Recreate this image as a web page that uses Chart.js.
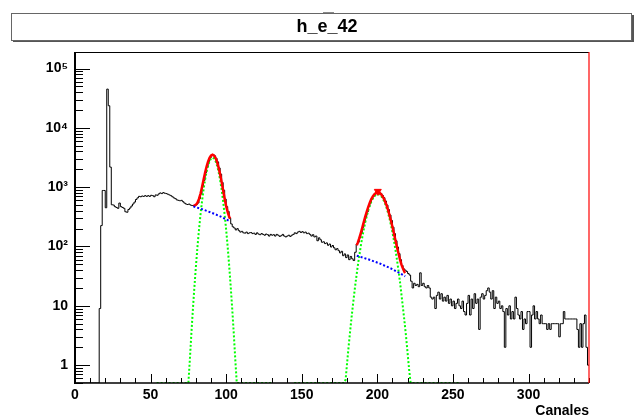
<!DOCTYPE html>
<html><head><meta charset="utf-8">
<script src="https://cdn.jsdelivr.net/npm/chart.js@4.4.1/dist/chart.umd.min.js"></script>
<style>html,body{margin:0;padding:0;background:#fff;}canvas{display:block;}</style>
</head><body>
<canvas id="c" width="643" height="418"></canvas>
<script>
const FONT = "'Liberation Sans', Arial, Helvetica, sans-serif";

// ---- data ----
const titleText = 'h_e_42';
const xTitle = 'Canales';
const xRange = [0, 340];
const yRange = [0.5, 1.9e5];
const xTicks = [0, 50, 100, 150, 200, 250, 300];
const yTicks = [1, 10, 100, 1000, 10000, 100000];
const yTickLabels = ['1', '10', '10²', '10³', '10⁴', '10⁵'];

// histogram counts, one per channel (0..339)
const counts = [
  0,0,0,0,0,0,0,0,0,0,0,0,0,0,0,0,9,225,880,880,
  450,45000,23600,2180,505,500,470,455,440,540,470,455,440,385,378,420,445,480,520,560,
  620,660,700,690,710,700,720,700,720,700,730,720,690,740,730,770,800,780,810,790,
  780,760,740,720,690,660,640,610,600,590,600,570,540,520,510,520,500,490,489,495,
  512,541,640,770,1010,1300,1750,2180,2720,3100,3450,3540,3380,3060,2670,2110,1660,1200,890,630,
  470,390,300,240,215,205,190,200,185,175,180,170,168,175,165,170,172,165,168,160,
  170,162,158,165,160,155,162,158,150,160,155,158,150,160,155,148,152,160,150,145,
  150,155,148,155,160,170,165,175,180,172,178,170,175,165,168,160,150,158,145,150,
  125,140,130,118,120,112,115,105,110,98,104,95,88,92,85,78,83,70,75,65,
  72,60,68,62,58,80,110,118,140,165,210,255,320,385,470,545,630,700,755,800,
  815,805,780,725,665,585,500,420,340,275,212,165,125,98,76,60,48,42,40,38,
  35,33,26,20,24,22,23,21,36,22,24,21,20,22,20,14,13,14,9,15,
  17,13,16,12,14,12,15,11,13,10,12,9,11,13,10,9,12,8,7,11,
  15,7,13,9,16,11,13,4,14,16,13,15,18,20,17,13,18,9,14,11,
  12,9,10,8,2,9,7,10,6,8,6,14,9,7,6,8,4,6,5,8,
  8,2,7,10,6,8,6,5,7,5,5,5,4,5,4,5,5,5,5,5,
  3,5,5,8,6,6,6,6,6,6,6,6,4,2,5,2,5,7,2,1
];

// fitted gaussian components (green), [channel, value]
const gauss1 = [[54,0.5],[75,0.5],[76,1.27],[77,3.5],[78,8.9],[79,21],[80,47],[81,98],[82,190],[83,341],[84,574],[85,903],[86,1322],[87,1807],[88,2305],[89,2741],[90,3043],[91,3150],[92,3043],[93,2741],[94,2305],[95,1807],[96,1322],[97,903],[98,574],[99,341],[100,190],[101,98],[102,47],[103,21],[104,8.9],[105,3.5],[106,1.27],[107,0.5],[131,0.5]];
const gauss2 = [[145,0.5],[178,0.5],[179,0.57],[180,1.1],[181,2.07],[182,3.74],[183,6.6],[184,11.2],[185,18.5],[186,29.7],[187,46],[188,69],[189,100],[190,142],[191,193],[192,256],[193,327],[194,406],[195,488],[196,569],[197,642],[198,701],[199,743],[200,762],[201,757],[202,729],[203,680],[204,614],[205,537],[206,455],[207,374],[208,298],[209,230],[210,172],[211,124],[212,87],[213,59],[214,39],[215,25],[216,15],[217,9],[218,5.3],[219,3.0],[220,1.6],[221,0.85],[222,0.5],[255,0.5]];
// background components (blue)
const bkg1 = [[78.3,475],[84,426],[90,374],[96,323],[102.6,266]];
const bkg2 = [[186.4,70],[194,60.8],[202,51.2],[210,41.5],[218.4,31.5]];
// total fits (red)
const fit1 = [[78.3,487],[79,490],[80,507],[81,549],[82,633],[83,775],[84,1000],[85,1320],[86,1731],[87,2207],[88,2696],[89,3124],[90,3417],[91,3516],[92,3400],[93,3090],[94,2645],[95,2138],[96,1645],[97,1217],[98,880],[99,638],[100,478],[101,378],[102,318],[102.6,295]];
const fit2 = [[186.4,105],[187,115],[188,137],[189,167],[190,207],[191,258],[192,319],[193,389],[194,467],[195,548],[196,628],[197,699],[198,757],[199,798],[200,815],[201,809],[202,780],[203,730],[204,663],[205,585],[206,502],[207,419],[208,342],[209,272],[210,213],[211,164],[212,126],[213,97],[214,76],[215,60],[216,49],[217,42],[218,37],[218.4,35.7]];
// peak marker
const peakMarker = [[200.3, 850]];

// ---- build datasets ----
const pts = a => a.map(p => ({x: p[0], y: p[1]}));
const histPts = counts.map((v, i) => ({x: i, y: v > 0 ? v : yRange[0]}));
histPts.push({x: counts.length, y: histPts[histPts.length - 1].y});

const titleBox = {
  id: 'titleBox',
  beforeDraw(chart) {
    const ctx = chart.ctx;
    ctx.save();
    ctx.fillStyle = '#fff';
    ctx.fillRect(0, 0, chart.width, chart.height);
    ctx.fillStyle = '#555';
    ctx.fillRect(13, 40, 621, 2);
    ctx.fillRect(632, 15, 2, 27);
    ctx.fillStyle = '#fff';
    ctx.fillRect(11.5, 13.5, 620, 27);
    ctx.strokeStyle = '#666';
    ctx.lineWidth = 1;
    ctx.strokeRect(11.5, 13.5, 620, 27);
    ctx.strokeStyle = '#888';
    ctx.beginPath(); ctx.moveTo(323, 12.5); ctx.lineTo(334, 12.5); ctx.stroke();
    ctx.restore();
  }
};

const frame = {
  id: 'frame',
  afterDatasetsDraw(chart) {
    const {ctx, chartArea: {left, right, top, bottom}, scales: {x, y}} = chart;
    ctx.save();
    ctx.strokeStyle = '#000';
    ctx.lineWidth = 1;
    const line = (x1, y1, x2, y2) => { ctx.beginPath(); ctx.moveTo(x1, y1); ctx.lineTo(x2, y2); ctx.stroke(); };
    for (let e = -1; e <= 5; e++) {
      for (let m = 1; m <= 9; m++) {
        const v = m * Math.pow(10, e);
        if (v < yRange[0] || v > yRange[1]) continue;
        const py = Math.round(y.getPixelForValue(v)) + 0.5;
        line(left, py, left + (m === 1 ? 15 : 8), py);
      }
    }
    for (let v = xRange[0]; v <= xRange[1]; v += 10) {
      const px = Math.round(x.getPixelForValue(v)) + 0.5;
      line(px, bottom, px, bottom - (v % 50 === 0 ? 9 : 5));
    }
    line(left, top + 0.5, right, top + 0.5);
    ctx.lineWidth = 1.5;
    line(left, bottom, right, bottom);
    ctx.lineWidth = 2;
    line(left, top, left, bottom + 1);
    ctx.strokeStyle = '#ff0000';
    ctx.lineWidth = 1.2;
    line(right, top, right, bottom);
    ctx.restore();
  }
};

const dash = [2, 2];
new Chart(document.getElementById('c'), {
  type: 'line',
  data: {
    datasets: [
      {label: 'hist', data: histPts, stepped: 'before', borderColor: '#000', borderWidth: 1, pointRadius: 0, order: 6},
      {label: 'gaus1', data: pts(gauss1), borderColor: '#00ff00', borderWidth: 2, borderDash: dash, pointRadius: 0, order: 5},
      {label: 'gaus2', data: pts(gauss2), borderColor: '#00ff00', borderWidth: 2, borderDash: dash, pointRadius: 0, order: 5},
      {label: 'bkg1', data: pts(bkg1), borderColor: '#0000ff', borderWidth: 2, borderDash: dash, pointRadius: 0, order: 3},
      {label: 'bkg2', data: pts(bkg2), borderColor: '#0000ff', borderWidth: 2, borderDash: dash, pointRadius: 0, order: 3},
      {label: 'fit1', data: pts(fit1), borderColor: '#ff0000', borderWidth: 2.5, pointRadius: 0, order: 4},
      {label: 'fit2', data: pts(fit2), borderColor: '#ff0000', borderWidth: 2.5, pointRadius: 0, order: 4},
      {label: 'peak', data: pts(peakMarker), showLine: false, pointStyle: 'triangle', rotation: 180, pointRadius: 4, backgroundColor: '#ff0000', borderColor: '#ff0000', borderWidth: 1, order: 1}
    ]
  },
  options: {
    responsive: false,
    animation: false,
    devicePixelRatio: 1,
    events: [],
    layout: {padding: {left: 11, right: 0, top: 0, bottom: 0}},
    plugins: {
      legend: {display: false},
      tooltip: {enabled: false},
      title: {
        display: true, text: titleText, color: '#000',
        font: {family: FONT, size: 18, weight: 'bold', lineHeight: 1.2},
        padding: {top: 16.2, bottom: 14.2}
      }
    },
    scales: {
      x: {
        type: 'linear', min: xRange[0], max: xRange[1],
        afterFit: s => { s.height = 35; },
        afterBuildTicks: s => { s.ticks = xTicks.map(v => ({value: v})); },
        grid: {display: false, drawTicks: false},
        border: {display: false},
        ticks: {autoSkip: false, maxRotation: 0, color: '#000', padding: 4,
          font: {family: FONT, size: 14, weight: 'bold'}},
        title: {display: true, text: xTitle, align: 'end', color: '#000',
          font: {family: FONT, size: 14, weight: 'bold', lineHeight: 1.0}, padding: {top: 0, bottom: 0}}
      },
      y: {
        type: 'logarithmic', min: yRange[0], max: yRange[1],
        afterFit: s => { s.width = 64; },
        afterBuildTicks: s => { s.ticks = yTicks.map(v => ({value: v})); },
        grid: {display: false, drawTicks: false},
        border: {display: false},
        ticks: {autoSkip: false, color: '#000', padding: 7,
          font: {family: FONT, size: 14, weight: 'bold'},
          callback: (v) => { const i = yTicks.indexOf(v); return i >= 0 ? yTickLabels[i] : ''; }}
      },
      yRight: {
        type: 'linear', position: 'right', display: true,
        afterFit: s => { s.width = 54; },
        grid: {display: false, drawTicks: false},
        border: {display: false},
        ticks: {display: false}
      }
    }
  },
  plugins: [titleBox, frame]
});
</script>
</body></html>
